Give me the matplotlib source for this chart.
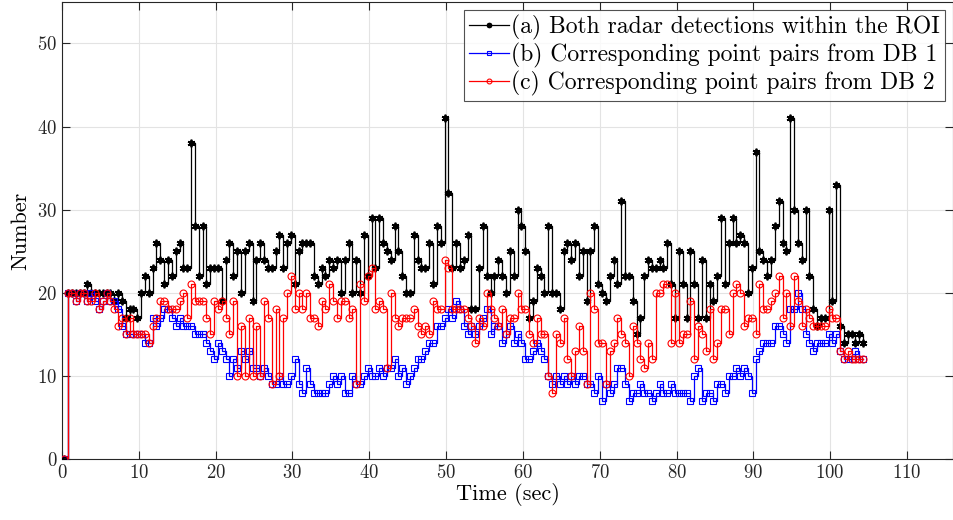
import numpy as np
import matplotlib
matplotlib.use("Agg")
import matplotlib.pyplot as plt

plt.rcParams['font.family'] = ['cmr10', 'DejaVu Serif']
plt.rcParams['mathtext.fontset'] = 'cm'
plt.rcParams['axes.formatter.use_mathtext'] = True

# sampling: first sample at 0.3 s, then every 0.5 s
t_start = 0.3
t_step = 0.5

both_roi = [0,
    20, 20, 20, 20, 20, 21, 20, 20, 20, 20,
    20, 20, 19, 20, 19, 17, 18, 18, 17, 20,
    22, 20, 23, 26, 24, 21, 24, 22, 25, 26,
    23, 23, 38, 28, 22, 28, 21, 23, 23, 23,
    19, 24, 26, 22, 25, 20, 25, 26, 19, 24,
    26, 24, 23, 23, 25, 27, 23, 26, 27, 21,
    25, 26, 26, 26, 22, 21, 23, 22, 24, 23,
    24, 20, 24, 26, 20, 24, 20, 27, 22, 29,
    23, 29, 26, 25, 24, 28, 25, 22, 20, 20,
    27, 24, 23, 23, 26, 21, 28, 26, 41, 32,
    23, 26, 23, 24, 27, 18, 18, 23, 28, 22,
    20, 22, 24, 22, 20, 25, 22, 30, 28, 25,
    17, 19, 23, 22, 20, 28, 20, 20, 18, 25,
    26, 24, 26, 22, 25, 19, 25, 28, 21, 20,
    19, 22, 24, 21, 31, 22, 22, 19, 15, 17,
    22, 24, 23, 23, 24, 23, 26, 21, 17, 25,
    21, 17, 25, 21, 17, 24, 17, 21, 19, 22,
    29, 21, 26, 29, 26, 27, 26, 20, 23, 37,
    25, 24, 22, 24, 28, 31, 26, 25, 41, 30,
    26, 24, 30, 22, 18, 16, 17, 17, 30, 19,
    33, 16, 14, 15, 15, 14, 15, 14]

db1_pairs = [0,
    20, 20, 19, 20, 20, 19, 20, 19, 18, 19,
    20, 19, 19, 18, 16, 15, 15, 15, 15, 15,
    14, 14, 17, 16, 17, 18, 18, 17, 16, 17,
    16, 16, 16, 15, 15, 15, 14, 13, 12, 14,
    13, 12, 10, 12, 11, 13, 12, 13, 11, 11,
    10, 11, 10, 9, 9, 10, 9, 9, 10, 12,
    9, 8, 11, 9, 8, 8, 8, 8, 9, 10,
    9, 10, 8, 8, 10, 9, 9, 10, 11, 10,
    10, 11, 10, 11, 11, 12, 10, 11, 9, 10,
    11, 12, 12, 13, 14, 14, 16, 16, 17, 18,
    17, 19, 18, 16, 15, 16, 15, 16, 17, 18,
    15, 16, 16, 14, 15, 16, 14, 15, 14, 12,
    12, 13, 14, 13, 12, 10, 9, 10, 9, 10,
    9, 10, 9, 10, 10, 9, 9, 8, 10, 7,
    9, 8, 9, 11, 11, 9, 7, 8, 8, 9,
    8, 8, 7, 8, 9, 8, 8, 9, 8, 8,
    8, 8, 7, 10, 11, 7, 8, 8, 7, 9,
    9, 8, 10, 10, 11, 10, 11, 10, 8, 12,
    13, 14, 14, 14, 16, 16, 15, 14, 18, 18,
    20, 18, 15, 14, 13, 14, 14, 14, 15, 14,
    15, 13, 12, 12, 12, 13, 12, 12]

db2_pairs = [0,
    20, 20, 19, 20, 20, 19, 19, 20, 18, 19,
    20, 19, 18, 16, 17, 15, 17, 15, 15, 15,
    15, 14, 16, 17, 19, 19, 18, 18, 18, 19,
    20, 17, 21, 19, 19, 19, 17, 15, 19, 18,
    19, 17, 15, 19, 10, 16, 10, 17, 10, 16,
    10, 19, 17, 9, 18, 10, 17, 20, 22, 18,
    20, 18, 20, 17, 17, 16, 19, 18, 21, 19,
    17, 19, 19, 17, 18, 9, 21, 19, 22, 23,
    18, 19, 18, 11, 20, 17, 16, 17, 17, 17,
    18, 16, 15, 16, 15, 19, 18, 18, 24, 23,
    18, 18, 18, 18, 17, 16, 14, 17, 16, 20,
    18, 17, 16, 18, 15, 17, 17, 20, 18, 18,
    15, 14, 17, 15, 15, 10, 8, 15, 14, 17,
    12, 10, 13, 16, 13, 9, 20, 18, 14, 14,
    9, 13, 14, 17, 15, 14, 10, 16, 14, 12,
    11, 14, 12, 20, 20, 21, 21, 14, 20, 14,
    15, 15, 19, 12, 16, 15, 13, 18, 12, 14,
    18, 18, 15, 20, 21, 20, 16, 17, 17, 15,
    21, 18, 18, 19, 20, 22, 17, 20, 16, 22,
    19, 16, 18, 17, 16, 16, 16, 16, 18, 17,
    17, 13, 12, 13, 12, 12, 12, 12]

labels = ['(a) Both radar detections within the ROI',
          '(b) Corresponding point pairs from DB 1',
          '(c) Corresponding point pairs from DB 2']

time = t_start + t_step * np.arange(len(both_roi))

fig = plt.figure(figsize=(9.54, 5.20), dpi=100)
ax = fig.add_axes([0.065, 0.1173, 0.934, 0.879])

ax.step(time, both_roi, where='post', color='k', lw=0.9, marker=(6, 2, 0),
        ms=5.5, mec='k', mfc='k', mew=1.3, label=labels[0], zorder=3)
ax.step(time, db1_pairs, where='post', color=(0, 0, 1), lw=0.9, marker='s',
        ms=3.8, mec=(0, 0, 1), mfc='none', mew=0.8, label=labels[1], zorder=4)
ax.step(time, db2_pairs, where='post', color=(1, 0, 0), lw=0.9, marker='o',
        ms=5, mec=(1, 0, 0), mfc='none', mew=0.8, label=labels[2], zorder=5)

ax.set_xlim(0, 116)
ax.set_ylim(0, 55)
ax.set_xticks(np.arange(0, 111, 10))
ax.set_yticks(np.arange(0, 51, 10))
ax.grid(True, color='#e3e3e3', lw=0.8)
ax.set_axisbelow(True)
ax.tick_params(direction='in', top=True, right=True, length=6, width=0.8,
               labelsize=13.5, colors='#262626')
for s in ax.spines.values():
    s.set_color('#262626')
    s.set_linewidth(0.8)

ax.set_xlabel('Time (sec)', fontsize=16, labelpad=1)
ax.set_ylabel('Number', fontsize=16, labelpad=5)

leg = ax.legend(loc='upper right', fontsize=17, frameon=True, fancybox=False,
                edgecolor='#262626', handlelength=1.7, handletextpad=0.1,
                borderpad=0.2, labelspacing=0.12, borderaxespad=0.35,
                markerscale=0.7)
leg.get_frame().set_linewidth(0.8)

fig.savefig('out.png', dpi=100)
